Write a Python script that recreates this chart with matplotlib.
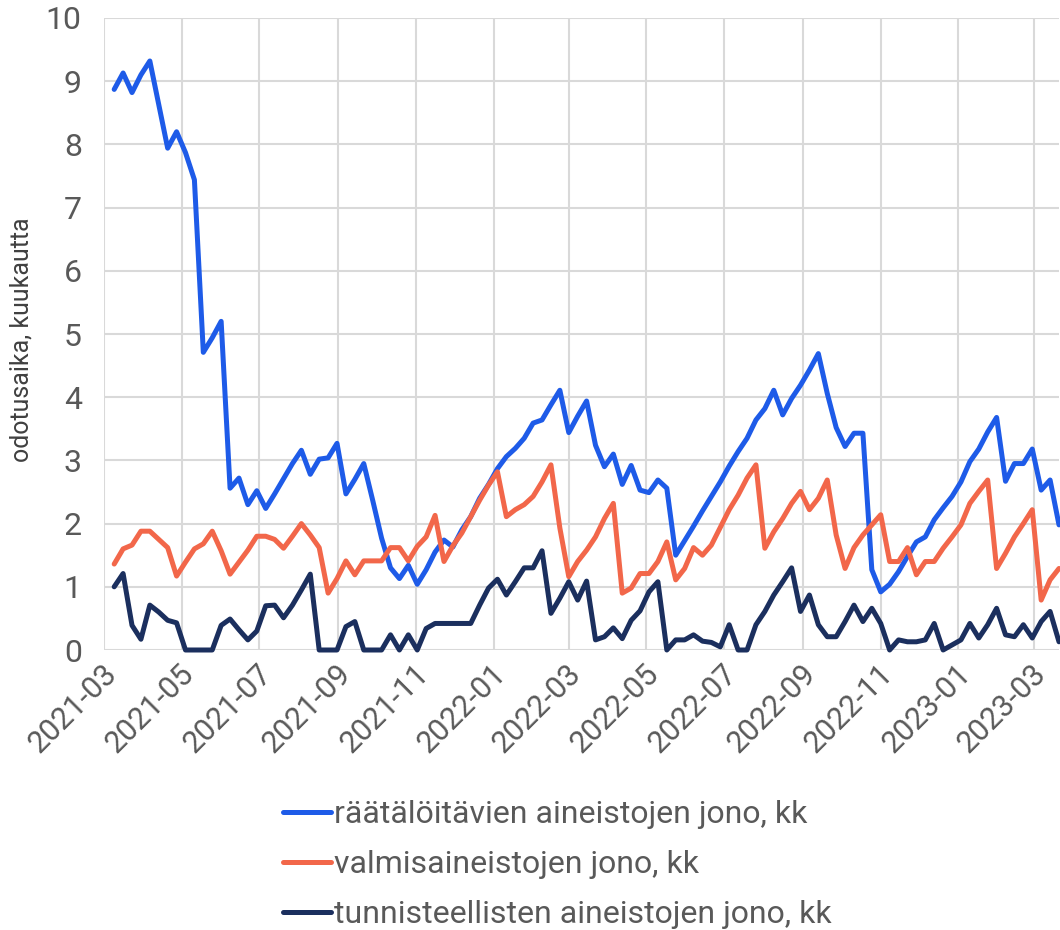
import matplotlib
matplotlib.use("Agg")
import matplotlib.pyplot as plt
import matplotlib.dates as mdates
import matplotlib.transforms as mtransforms
import numpy as np
import pandas as pd

start_date = "2021-03-09"
n_weeks = 107

raatalo = [8.87, 9.13, 8.82, 9.10, 9.32, 8.63, 7.94, 8.20, 7.87, 7.44,
           4.71, 4.94, 5.20, 2.56, 2.72, 2.30, 2.52, 2.24, 2.47, 2.71,
           2.95, 3.16, 2.78, 3.02, 3.04, 3.27, 2.47, 2.70, 2.95, 2.37,
           1.77, 1.30, 1.13, 1.34, 1.04, 1.27, 1.55, 1.74, 1.63, 1.90,
           2.11, 2.40, 2.62, 2.87, 3.06, 3.19, 3.35, 3.59, 3.64, 3.88,
           4.11, 3.44, 3.70, 3.94, 3.24, 2.90, 3.10, 2.62, 2.92, 2.53,
           2.49, 2.69, 2.56, 1.50, 1.73, 1.96, 2.20, 2.43, 2.66, 2.91,
           3.14, 3.35, 3.64, 3.82, 4.11, 3.72, 3.98, 4.19, 4.43, 4.69,
           4.06, 3.52, 3.22, 3.43, 3.43, 1.27, 0.92, 1.04, 1.24, 1.48,
           1.71, 1.79, 2.06, 2.25, 2.43, 2.66, 2.98, 3.18, 3.45, 3.68,
           2.67, 2.95, 2.95, 3.18, 2.53, 2.69, 1.98]

valmis = [1.36, 1.60, 1.66, 1.88, 1.88, 1.75, 1.62, 1.17, 1.39, 1.60,
          1.68, 1.88, 1.57, 1.20, 1.39, 1.58, 1.80, 1.80, 1.75, 1.61,
          1.80, 2.00, 1.82, 1.62, 0.90, 1.13, 1.41, 1.19, 1.41, 1.41,
          1.41, 1.62, 1.62, 1.41, 1.64, 1.79, 2.13, 1.40, 1.65, 1.85,
          2.11, 2.37, 2.61, 2.82, 2.11, 2.22, 2.30, 2.43, 2.66, 2.93,
          1.93, 1.16, 1.40, 1.58, 1.79, 2.08, 2.32, 0.90, 0.98, 1.21,
          1.21, 1.40, 1.71, 1.11, 1.29, 1.62, 1.50, 1.66, 1.94, 2.22,
          2.45, 2.72, 2.93, 1.61, 1.87, 2.08, 2.32, 2.51, 2.22, 2.40,
          2.69, 1.82, 1.29, 1.62, 1.82, 1.98, 2.14, 1.40, 1.40, 1.62,
          1.19, 1.40, 1.40, 1.61, 1.79, 1.98, 2.32, 2.51, 2.69, 1.29,
          1.53, 1.79, 2.00, 2.22, 0.79, 1.11, 1.29]

tunniste = [1.00, 1.21, 0.39, 0.17, 0.71, 0.60, 0.47, 0.43, 0.00, 0.00,
            0.00, 0.00, 0.39, 0.49, 0.32, 0.16, 0.30, 0.70, 0.71, 0.51,
            0.71, 0.95, 1.20, 0.00, 0.00, 0.00, 0.37, 0.45, 0.00, 0.00,
            0.00, 0.24, 0.00, 0.24, 0.00, 0.34, 0.42, 0.42, 0.42, 0.42,
            0.42, 0.71, 0.98, 1.12, 0.87, 1.08, 1.30, 1.30, 1.57, 0.58,
            0.82, 1.08, 0.79, 1.09, 0.16, 0.21, 0.35, 0.18, 0.47, 0.62,
            0.92, 1.08, 0.00, 0.16, 0.16, 0.24, 0.14, 0.12, 0.05, 0.40,
            0.00, 0.00, 0.40, 0.61, 0.87, 1.08, 1.30, 0.61, 0.87, 0.40,
            0.21, 0.21, 0.45, 0.71, 0.45, 0.66, 0.42, 0.00, 0.16, 0.13,
            0.13, 0.16, 0.42, 0.00, 0.08, 0.16, 0.42, 0.19, 0.40, 0.66,
            0.24, 0.21, 0.40, 0.19, 0.45, 0.61, 0.13]

series_labels = ["räätälöitävien aineistojen jono, kk",
                 "valmisaineistojen jono, kk",
                 "tunnisteellisten aineistojen jono, kk"]
y_label = "odotusaika, kuukautta"
tick_dates = pd.date_range("2021-03-01", "2023-03-01", freq="2MS")

dates = pd.date_range(start_date, periods=n_weeks, freq="7D")

plt.rcParams['font.family'] = ['Roboto', 'DejaVu Sans']

fig = plt.figure(figsize=(10.6, 9.3), dpi=100)
ax = fig.add_axes([104/1060, 1 - 650/930, 1 - 104/1060 - 1/1060, (650 - 18)/930])

colors = ["#1E5BE8", "#F2674A", "#1B2F5E"]
lines = []
for vals, c, lab in zip([raatalo, valmis, tunniste], colors, series_labels):
    ln, = ax.plot(dates, vals, color=c, lw=3.6, label=lab,
                  solid_joinstyle="round", solid_capstyle="round", clip_on=False)
    lines.append(ln)

ax.set_ylim(0, 10)
ax.set_yticks(range(0, 11))
ax.set_xlim(pd.Timestamp("2021-03-01"), dates[-1])
ax.set_xticks(tick_dates)
ax.xaxis.set_major_formatter(mdates.DateFormatter("%Y-%m"))

ax.grid(True, color="#D9D9D9", lw=1.5)
ax.set_axisbelow(True)
for s in ax.spines.values():
    s.set_visible(False)
ax.tick_params(axis="x", length=0, colors="#595959", labelsize=22, pad=14)
ax.tick_params(axis="y", length=0, colors="#595959", labelsize=23, pad=16)
offset = mtransforms.ScaledTranslation(8/100, 0, fig.dpi_scale_trans)
for lbl in ax.get_xticklabels():
    lbl.set_rotation(45)
    lbl.set_ha("right")
    lbl.set_va("center")
    lbl.set_rotation_mode("anchor")
    lbl.set_transform(lbl.get_transform() + offset)

fig.text(22/1060, 1 - 340/930, y_label, rotation=90, ha="center", va="center",
         fontsize=18, color="#404040")

leg = fig.legend(handles=lines, loc="upper left",
                 bbox_to_anchor=(270/1060, 1 - 787/930), frameon=False,
                 fontsize=23, labelcolor="#595959", handlelength=1.5,
                 handletextpad=0.1, labelspacing=0.66, borderaxespad=0)

fig.savefig("out.png", dpi=100)
